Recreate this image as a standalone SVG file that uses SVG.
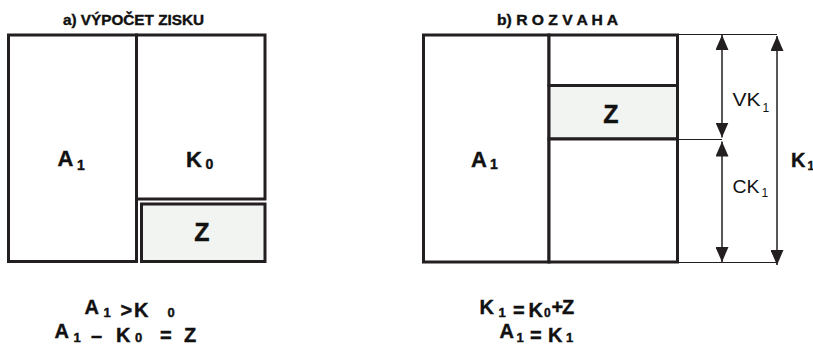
<svg xmlns="http://www.w3.org/2000/svg" width="813" height="349" viewBox="0 0 813 349">
<style>
.box{fill:#ffffff;stroke:#231f20;stroke-width:3}
.zbox{fill:#f2f4f2;stroke:#231f20;stroke-width:3}
.thin{stroke:#231f20;stroke-width:1;fill:none}
.dim{stroke:#231f20;stroke-width:1.5;fill:none;marker-start:url(#ah);marker-end:url(#ah)}
.b{font-family:"Liberation Sans",Arial,sans-serif;font-weight:bold;fill:#111;stroke:#111;stroke-width:0.4}
.r{font-family:"Liberation Sans",Arial,sans-serif;fill:#111}
.big{font-size:22px}
.mid{font-size:20px}
.sub{font-size:14px}
.ssub{font-size:13px}
</style>
<defs>
<marker id="ah" viewBox="0 0 15 13" refX="15" refY="6.5" markerWidth="15" markerHeight="13" markerUnits="userSpaceOnUse" orient="auto-start-reverse">
<path d="M0,0 L15,6.5 L0,13 z" fill="#231f20"/>
</marker>
</defs>

<g id="title-a"><text class="b" x="63" y="25" font-size="15" textLength="141" lengthAdjust="spacingAndGlyphs">a) VÝPOČET ZISKU</text></g>
<g id="title-b"><text class="b" x="497" y="25" font-size="15" textLength="121" lengthAdjust="spacingAndGlyphs">b) R O Z V A H A</text></g>

<g id="a-A1">
<rect class="box" x="8.5" y="35" width="128" height="226.5"/>
<text class="b big" y="166"><tspan x="57.5">A</tspan><tspan class="sub" x="77" y="169.5">1</tspan></text>
</g>
<g id="a-K0">
<rect class="box" x="136.5" y="35" width="128.5" height="164"/>
<text class="b big" y="166.5"><tspan x="186">K</tspan><tspan class="sub" x="205.5" y="169">0</tspan></text>
</g>
<g id="a-Z">
<rect class="zbox" x="141.5" y="204" width="123.5" height="57.5"/>
<text class="b" x="202" y="241" font-size="25" text-anchor="middle">Z</text>
</g>

<g id="b-A1">
<rect class="box" x="423.5" y="35" width="125.5" height="227"/>
<text class="b big" y="166.5"><tspan x="471">A</tspan><tspan class="sub" x="490" y="169">1</tspan></text>
</g>
<g id="b-top">
<rect class="box" x="549" y="35" width="128.5" height="50.5"/>
</g>
<g id="b-Z">
<rect class="zbox" x="549" y="85.5" width="128.5" height="53.5"/>
<text class="b" x="611" y="123" font-size="25" text-anchor="middle">Z</text>
</g>
<g id="b-bottom">
<rect class="box" x="549" y="139" width="128.5" height="123"/>
</g>

<g id="connectors">
<line class="thin" x1="677" y1="34.5" x2="777" y2="34.5"/>
<line class="thin" x1="677" y1="139.5" x2="722" y2="139.5"/>
<line class="thin" x1="677" y1="262.5" x2="777" y2="262.5"/>
<line class="dim" x1="722" y1="35" x2="722" y2="137.5"/>
<line class="dim" x1="722" y1="141.5" x2="722" y2="262"/>
<line class="dim" x1="777" y1="36" x2="777" y2="265"/>
</g>

<g id="label-VK1"><text class="r" font-size="19" y="106"><tspan x="732.5" textLength="28" lengthAdjust="spacingAndGlyphs">VK</tspan><tspan x="762.5" y="112" font-size="12">1</tspan></text></g>
<g id="label-CK1"><text class="r" font-size="19" y="193"><tspan x="732.5" textLength="27" lengthAdjust="spacingAndGlyphs">CK</tspan><tspan x="761.5" y="197" font-size="12">1</tspan></text></g>
<g id="label-K1"><text class="b" font-size="20" y="166.5"><tspan x="791">K</tspan><tspan x="807.5" y="170" font-size="12">1</tspan></text></g>

<g id="formula-a">
<text class="b mid" y="313.5"><tspan x="84.5">A</tspan><tspan class="ssub" x="103.5" y="317">1</tspan><tspan x="120.5">&gt;</tspan><tspan x="134">K</tspan><tspan class="ssub" x="167.5" y="317">0</tspan></text>
<text class="b mid" y="338"><tspan x="54.5">A</tspan><tspan class="ssub" x="73.5" y="341.5">1</tspan><tspan x="91">–</tspan><tspan x="116">K</tspan><tspan class="ssub" x="135" y="341.5">0</tspan><tspan x="160">=</tspan><tspan x="184">Z</tspan></text>
</g>
<g id="formula-b">
<text class="b mid" y="313.5"><tspan x="479.5">K</tspan><tspan class="ssub" x="498.5" y="317">1</tspan><tspan x="513">=</tspan><tspan x="528.5">K</tspan><tspan font-size="12" x="544" y="317">0</tspan><tspan x="551.5" y="313.5">+</tspan><tspan x="562">Z</tspan></text>
<text class="b mid" y="338"><tspan x="499.5">A</tspan><tspan class="ssub" x="516.5" y="341.5">1</tspan><tspan x="530">=</tspan><tspan x="548">K</tspan><tspan class="ssub" x="566" y="341.5">1</tspan></text>
</g>
</svg>
